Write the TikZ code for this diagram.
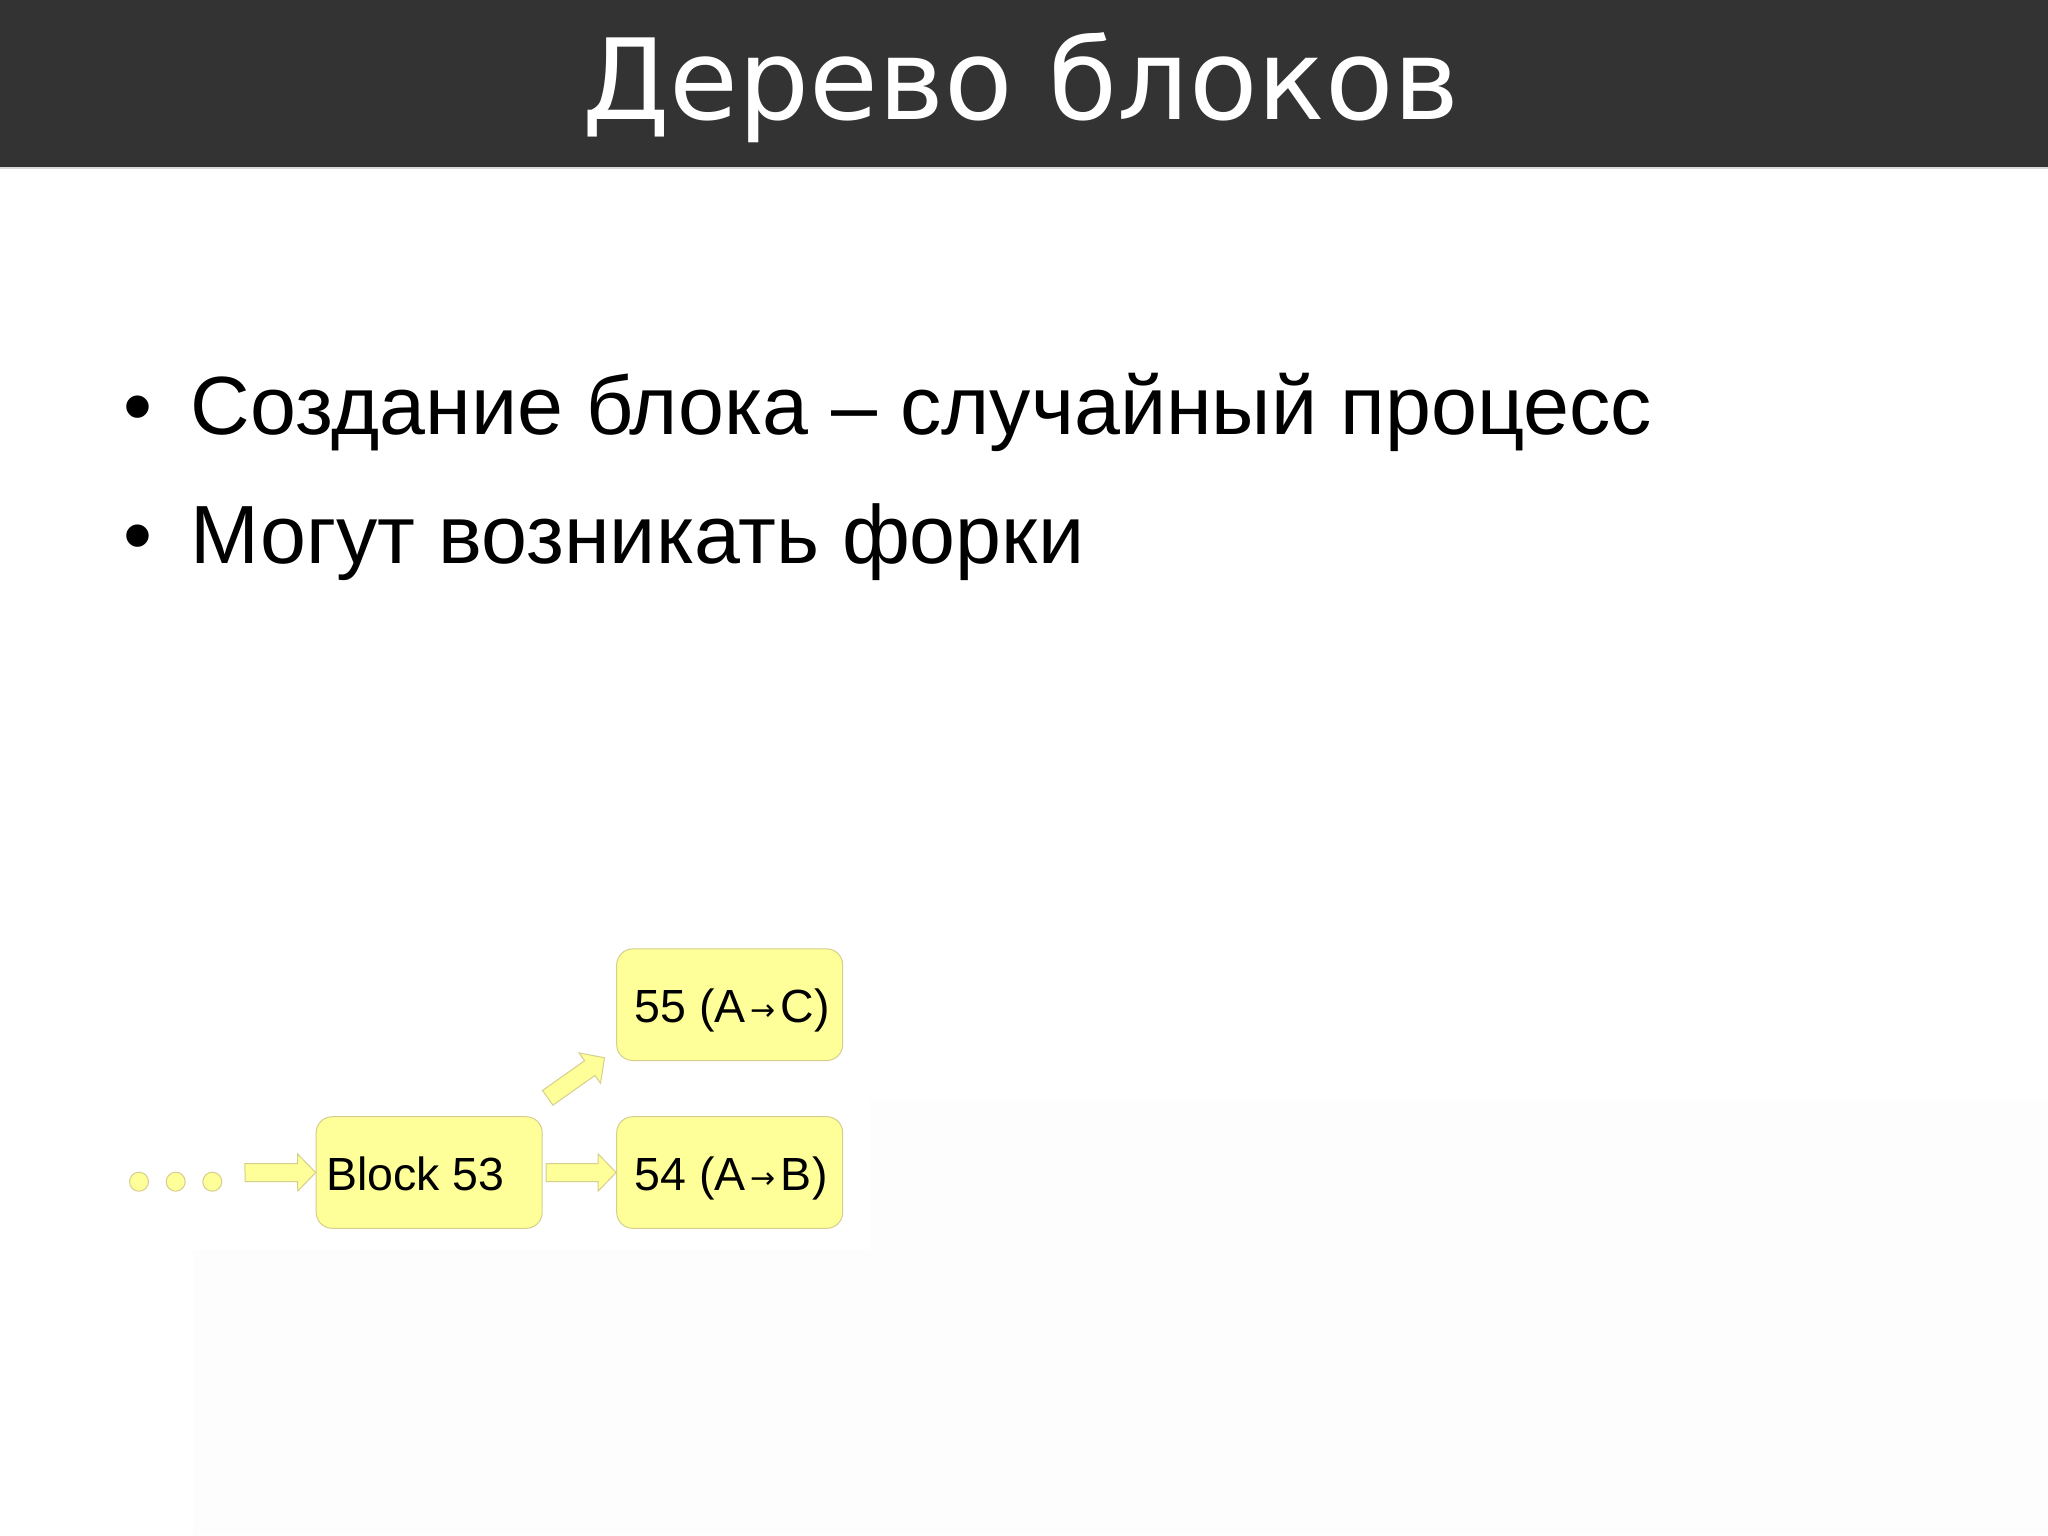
\documentclass[tikz,border=0pt]{standalone}
\usepackage{fontspec}
\setmainfont{Liberation Sans}
\newfontfamily\titlefont{DejaVu Sans}
\newfontfamily\symfont{DejaVu Sans}
\usetikzlibrary{calc}
\definecolor{barcol}{HTML}{333333}
\definecolor{blockfill}{HTML}{FFFF99}
\definecolor{blockline}{HTML}{D6CE8C}
\definecolor{faintbg}{HTML}{FDFDFD}
\newcommand{\rarr}{\kern5pt{\symfont\fontsize{30}{30}\selectfont\raisebox{2pt}{→}}\kern5pt}
\newcommand{\blockarr}[2]{%
  \coordinate (ba-s) at (#1);
  \coordinate (ba-e) at (#2);
  \coordinate (ba-b) at ($(ba-e)!18pt!(ba-s)$);
  \filldraw[arrowsty] ($(ba-s)!9pt!90:(ba-e)$) -- ($(ba-b)!9pt!90:(ba-e)$)
    -- ($(ba-b)!18.5pt!90:(ba-e)$) -- (ba-e) -- ($(ba-b)!18.5pt!-90:(ba-e)$)
    -- ($(ba-b)!9pt!-90:(ba-e)$) -- ($(ba-s)!9pt!-90:(ba-e)$) -- cycle;}
\tikzset{
  blockbox/.style={draw=blockline, fill=blockfill, line width=1pt,
    rounded corners=16pt, minimum width=226pt, minimum height=111.6pt, inner sep=0pt},
  arrowsty/.style={draw=blockline, fill=blockfill, line width=1pt},
  dotsty/.style={circle, draw=blockline, fill=blockfill, line width=1pt,
    minimum size=19pt, inner sep=0pt},
  lbl/.style={anchor=base west, inner sep=0pt, font=\fontsize{46.5}{54}\selectfont},
  bullettext/.style={anchor=base west, inner sep=0pt, font=\fontsize{82.6}{99}\selectfont},
  titletext/.style={anchor=base, inner sep=0pt, text=white,
    font=\titlefont\fontsize{112}{134}\selectfont}
}
\begin{document}
\begin{tikzpicture}[x=1pt, y=-1pt]
  \useasboundingbox (0,0) rectangle (2048,1535);
  \fill[white] (0,0) rectangle (2048,1535);
  % faint off-white pasted area
  \fill[faintbg] (193,1100) rectangle (2048,1535);
  \fill[white] (193,1095) rectangle (870,1250);
  % title bar
  \fill[barcol] (0,0) rectangle (2048,167);
  \fill[black!15] (0,167) rectangle (2048,169);
  \node[titletext] (title) at (1021,119) {Дерево блоков};
  % bullets
  \node[bullettext] (bul1) at (123.5,434) {•};
  \node[bullettext] (line1) at (190.5,434) {Создание блока – случайный процесс};
  \node[bullettext] (bul2) at (123.5,563) {•};
  \node[bullettext] (line2) at (190.5,563) {Могут возникать форки};
  % blocks
  \node[blockbox] (b53) at (429.2,1172.5) {};
  \node[blockbox] (b54) at (729.7,1172.5) {};
  \node[blockbox] (b55) at (729.7,1004.7) {};
  \node[lbl] (t53) at (326,1190.7) {Block 53};
  \node[lbl] (t54) at (634.5,1190.7) {54 (A\rarr B)};
  \node[lbl] (t55) at (634.5,1022.7) {55 (A\rarr C)};
  % dots
  \node[dotsty] (d1) at (139,1181.7) {};
  \node[dotsty] (d2) at (175.7,1181.7) {};
  \node[dotsty] (d3) at (212.3,1181.7) {};
  % arrows
  \coordinate (a0) at (245,1172.7);
  \blockarr{a0}{b53.west}
  \coordinate (a1) at ($(b53.east)+(3.3,0)$);
  \blockarr{a1}{b54.west}
  \coordinate (a2) at ($(b53.north east)+(5,-18.4)$);
  \coordinate (a2e) at ($(b55.south west)+(-11.7,-3.3)$);
  \blockarr{a2}{a2e}
\end{tikzpicture}
\end{document}
